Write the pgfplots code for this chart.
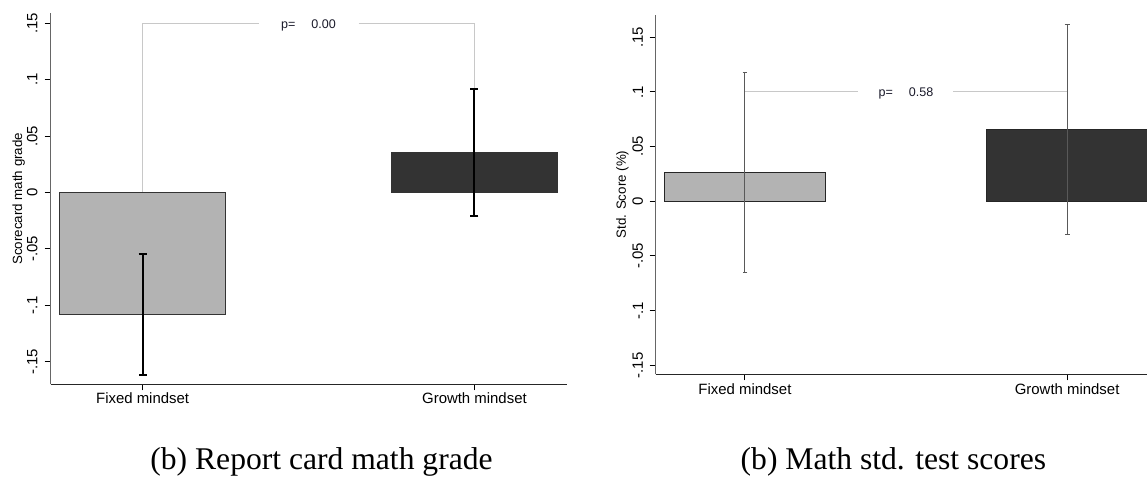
\documentclass[border=0pt]{standalone}
\usepackage{fontspec}
\setmainfont{Liberation Sans}
\newfontfamily\capfont{Liberation Serif}
\usepackage{pgfplots}
\pgfplotsset{compat=1.18}
\definecolor{barlight}{HTML}{B3B3B3}
\definecolor{bardark}{HTML}{333333}
\definecolor{bracket}{HTML}{C8C8C8}
\definecolor{ptext}{HTML}{1A1A2A}

\pgfplotsset{
 stataaxis/.style={
  scale only axis,
  axis lines*=left,
  x axis line style={black!85, line width=0.9pt},
  y axis line style={black!60, line width=0.9pt},
  tick style={black, line width=0.75pt},
  tick align=outside,
  major tick length=4.6pt,
  xtick={0,1}, xticklabels={Fixed mindset, Growth mindset},
  ytick={-0.15,-0.1,-0.05,0,0.05,0.1,0.15},
  yticklabels={-.15,-.1,-.05,0,.05,.1,.15},
  ticklabel style={font=\fontsize{11.2pt}{13pt}\selectfont},
  yticklabel style={rotate=90, anchor=south, inner sep=0pt},
  xticklabel style={anchor=north, inner sep=0pt},
  label style={font=\fontsize{11.2pt}{13pt}\selectfont},
 }
}

\pgfplotstableread{
x y err
0 -0.108 0.0537
1 0.0355 0.0566
}\gradetable
\pgfplotstableread{
x y err
0 0.0265 0.0915
1 0.066 0.096
}\testtable

\begin{document}
\begin{tikzpicture}[x=0.75pt,y=0.75pt]
\useasboundingbox (0,0) rectangle (1147,477);

% ---------- left panel ----------
\begin{axis}[stataaxis, at={(38.025pt,69.525pt)}, anchor=south west,
  width=387pt, height=278.25pt,
  xmin=-0.277, xmax=1.278, ymin=-0.170, ymax=0.1589,
  yticklabel shift=5.15pt, xticklabel shift=1.7pt,
  ylabel={Scorecard math grade},
  every axis y label/.style={at={(axis description cs:-0.0556,0.5)}, rotate=90, anchor=base, inner sep=0pt},
]
\addplot[bracket, line width=1.2pt, no marks] coordinates {(0,0) (0,0.15) (0.351,0.15)};
\addplot[bracket, line width=1.2pt, no marks] coordinates {(0.651,0.15) (1,0.15) (1,0.0355)};
\addplot[ybar, bar width=0.5, bar shift=0pt, fill=barlight, draw=black!80, line width=0.8pt,
  error bars/.cd, y dir=both, y explicit, error mark=|,
  error bar style={black, line width=1.5pt},
  error mark options={black, line width=1.5pt, mark size=3pt}]
  table[x=x, y=y, y error=err, restrict expr to domain={\thisrow{x}}{0:0}] {\gradetable};
\addplot[ybar, bar width=0.5, bar shift=0pt, fill=bardark, draw=black!80, line width=0.8pt,
  error bars/.cd, y dir=both, y explicit, error mark=|,
  error bar style={black, line width=1.5pt},
  error mark options={black, line width=1.5pt, mark size=3pt}]
  table[x=x, y=y, y error=err, restrict expr to domain={\thisrow{x}}{1:1}] {\gradetable};
\node[anchor=base, yshift=-3.75pt, text=ptext, font=\fontsize{9.4pt}{11pt}\selectfont] at (axis cs:0.5,0.15) {p=\hspace{12pt}0.00};
\end{axis}

% ---------- right panel ----------
\begin{axis}[stataaxis, at={(491.775pt,77.025pt)}, anchor=south west,
  width=368.5pt, height=269.5pt,
  xmin=-0.277, xmax=1.248, ymin=-0.1582, ymax=0.1704,
  yticklabel shift=4.7pt, xticklabel shift=2.15pt,
  ylabel={Std. Score (\%)},
  every axis y label/.style={at={(axis description cs:-0.0605,0.5)}, rotate=90, anchor=base, inner sep=0pt},
]
\addplot[bracket, line width=0.8pt, no marks] coordinates {(0,0.1) (0.350,0.1)};
\addplot[bracket, line width=0.8pt, no marks] coordinates {(0.647,0.1) (1,0.1)};
\addplot[ybar, bar width=0.5, bar shift=0pt, fill=barlight, draw=black!85, line width=0.8pt,
  error bars/.cd, y dir=both, y explicit, error mark=|,
  error bar style={black!65, line width=0.75pt},
  error mark options={black!65, line width=0.75pt, mark size=1.8pt}]
  table[x=x, y=y, y error=err, restrict expr to domain={\thisrow{x}}{0:0}] {\testtable};
\addplot[ybar, bar width=0.5, bar shift=0pt, fill=bardark, draw=black!85, line width=0.8pt,
  error bars/.cd, y dir=both, y explicit, error mark=|,
  error bar style={black!65, line width=0.75pt},
  error mark options={black!65, line width=0.75pt, mark size=1.8pt}]
  table[x=x, y=y, y error=err, restrict expr to domain={\thisrow{x}}{1:1}] {\testtable};
\node[anchor=base, yshift=-3.75pt, text=ptext, font=\fontsize{9.4pt}{11pt}\selectfont] at (axis cs:0.5,0.1) {p=\hspace{12pt}0.58};
\end{axis}

% ---------- captions ----------
\node[anchor=base, inner sep=0pt, font=\capfont\fontsize{23.7pt}{28pt}\selectfont] at (321.5,7.5) {(b) Report card math grade};
\node[anchor=base, inner sep=0pt, font=\capfont\fontsize{23.7pt}{28pt}\selectfont] at (893.4,7.5) {(b) Math std. test scores};
\end{tikzpicture}
\end{document}
